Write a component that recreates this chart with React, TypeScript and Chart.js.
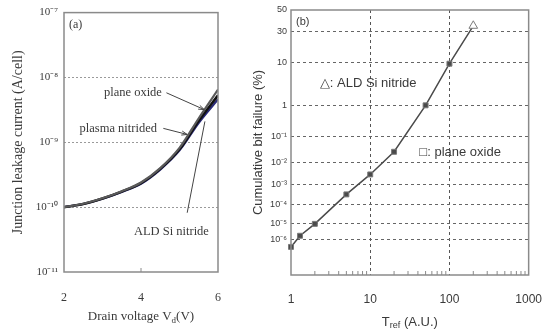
import { useEffect, useRef } from 'react';
import { Chart, registerables } from 'chart.js';

Chart.register(...registerables);

// ---------- Panel (a) data ----------
const VOLTAGE = [2, 2.5, 3, 3.5, 4, 4.5, 5, 5.5, 6];
const I_PLANE_OXIDE = [1e-10, 1.13e-10, 1.37e-10, 1.76e-10, 2.4e-10, 4.0e-10, 8.2e-10, 2.35e-9, 6.5e-9];
const I_PLASMA_NITRIDED = [1e-10, 1.12e-10, 1.36e-10, 1.74e-10, 2.35e-10, 3.9e-10, 7.8e-10, 2.15e-9, 5.3e-9];
const I_ALD_NITRIDE = [1e-10, 1.12e-10, 1.35e-10, 1.72e-10, 2.3e-10, 3.8e-10, 7.5e-10, 2.0e-9, 4.6e-9];
const LEAK_TICKS = [1e-11, 1e-10, 1e-9, 1e-8, 1e-7];
const LEAK_TICK_LABELS = ['10⁻¹¹', '10⁻¹⁰', '10⁻⁹', '10⁻⁸', '10⁻⁷'];
const VOLT_TICKS = [2, 4, 6];

// ---------- Panel (b) data ----------
const T_REF = [1, 1.3, 2, 5, 10, 20, 50, 100, 200];
const FAIL_PCT = [3.7e-7, 1.8e-6, 9e-6, 3.4e-4, 3e-3, 2.7e-2, 1, 9.5, 35];
const FAIL_MARKERS = ['rect', 'rect', 'rect', 'rect', 'rect', 'rect', 'rect', 'rect', 'triangle'];
const FAIL_TICK_PCT = [50, 30, 10, 1, 0.1, 0.01, 1e-3, 1e-4, 1e-5, 1e-6];
const FAIL_TICK_LABELS = ['50', '30', '10', '1', '10⁻¹', '10⁻²', '10⁻³', '10⁻⁴', '10⁻⁵', '10⁻⁶'];
const FAIL_AXIS_MIN_PCT = 5e-9;
const FAIL_AXIS_MAX_PCT = 50;
const T_TICKS = [1, 10, 100, 1000];

// inverse standard normal CDF (Acklam)
function probit(p: number): number {
  const a = [-3.969683028665376e1, 2.209460984245205e2, -2.759285104469687e2, 1.38357751867269e2, -3.066479806614716e1, 2.506628277459239];
  const b = [-5.447609879822406e1, 1.615858368580409e2, -1.556989798598866e2, 6.680131188771972e1, -1.328068155288572e1];
  const c = [-7.784894002430293e-3, -3.223964580411365e-1, -2.400758277161838, -2.549732539343734, 4.374664141464968, 2.938163982698783];
  const d = [7.784695709041462e-3, 3.224671290700398e-1, 2.445134137142996, 3.754408661907416];
  const plow = 0.02425;
  if (p <= 0) return -10;
  if (p < plow) {
    const q = Math.sqrt(-2 * Math.log(p));
    return (((((c[0] * q + c[1]) * q + c[2]) * q + c[3]) * q + c[4]) * q + c[5]) / ((((d[0] * q + d[1]) * q + d[2]) * q + d[3]) * q + 1);
  }
  if (p <= 1 - plow) {
    const q = p - 0.5;
    const r = q * q;
    return ((((((a[0] * r + a[1]) * r + a[2]) * r + a[3]) * r + a[4]) * r + a[5]) * q) / (((((b[0] * r + b[1]) * r + b[2]) * r + b[3]) * r + b[4]) * r + 1);
  }
  const q = Math.sqrt(-2 * Math.log(1 - p));
  return -(((((c[0] * q + c[1]) * q + c[2]) * q + c[3]) * q + c[4]) * q + c[5]) / ((((d[0] * q + d[1]) * q + d[2]) * q + d[3]) * q + 1);
}
const pctToZ = (pct: number) => probit(pct / 100);

const SERIF = '"Liberation Serif", "Times New Roman", serif';
const SANS = '"Liberation Sans", Arial, sans-serif';
const TEXT = '#3a3a3a';

function drawArrow(ctx: CanvasRenderingContext2D, x1: number, y1: number, x2: number, y2: number, head: boolean) {
  ctx.beginPath();
  ctx.moveTo(x1, y1);
  ctx.lineTo(x2, y2);
  ctx.stroke();
  if (head) {
    const ang = Math.atan2(y2 - y1, x2 - x1);
    const L = 6;
    ctx.beginPath();
    ctx.moveTo(x2, y2);
    ctx.lineTo(x2 - L * Math.cos(ang - 0.35), y2 - L * Math.sin(ang - 0.35));
    ctx.moveTo(x2, y2);
    ctx.lineTo(x2 - L * Math.cos(ang + 0.35), y2 - L * Math.sin(ang + 0.35));
    ctx.stroke();
  }
}

function drawSub(ctx: CanvasRenderingContext2D, parts: [string, boolean][], cx: number, cy: number, size: number, family: string) {
  const subSize = Math.round(size * 0.7);
  let total = 0;
  for (const [t, s] of parts) {
    ctx.font = `${s ? subSize : size}px ${family}`;
    total += ctx.measureText(t).width;
  }
  let x = cx - total / 2;
  ctx.textAlign = 'left';
  ctx.textBaseline = 'middle';
  for (const [t, s] of parts) {
    ctx.font = `${s ? subSize : size}px ${family}`;
    ctx.fillText(t, x, s ? cy + size * 0.3 : cy);
    x += ctx.measureText(t).width;
  }
}

const framePlugin = {
  id: 'frame',
  afterDraw(chart: any) {
    const { ctx, chartArea: a } = chart;
    ctx.save();
    ctx.strokeStyle = '#8a8a8a';
    ctx.lineWidth = 1.5;
    ctx.strokeRect(a.left, a.top, a.right - a.left, a.bottom - a.top);
    ctx.restore();
  },
};

// annotations for panel (a) in data units
const A_LABELS: [string, number, number][] = [
  ['plane oxide', 3.79, 5.8e-9],
  ['plasma nitrided', 3.41, 1.64e-9],
  ['ALD Si nitride', 4.79, 4.2e-11],
];
const A_ARROWS: [number, number, number, number, boolean][] = [
  [4.66, 5.8e-9, 5.64, 3.2e-9, true],
  [4.58, 1.64e-9, 5.2, 1.32e-9, true],
  [5.2, 8.2e-11, 5.66, 2.1e-9, false],
];

const panelAPlugin = {
  id: 'panelA',
  afterDraw(chart: any) {
    const { ctx, chartArea: a, scales } = chart;
    const xs = scales.x;
    const ys = scales.y;
    ctx.save();
    ctx.fillStyle = TEXT;
    ctx.strokeStyle = '#444';
    ctx.lineWidth = 1;
    ctx.font = `12px ${SERIF}`;
    ctx.textAlign = 'left';
    ctx.textBaseline = 'middle';
    ctx.fillText('(a)', a.left + 5, a.top + 12);
    ctx.font = `12.5px ${SERIF}`;
    ctx.textAlign = 'center';
    for (const [t, x, y] of A_LABELS) {
      ctx.fillText(t, xs.getPixelForValue(x), ys.getPixelForValue(y));
    }
    for (const [x1, y1, x2, y2, h] of A_ARROWS) {
      drawArrow(ctx, xs.getPixelForValue(x1), ys.getPixelForValue(y1), xs.getPixelForValue(x2), ys.getPixelForValue(y2), h);
    }
    // inner tick at 4
    const px = xs.getPixelForValue(4);
    ctx.strokeStyle = '#8a8a8a';
    ctx.beginPath();
    ctx.moveTo(px, a.bottom);
    ctx.lineTo(px, a.bottom - 4);
    ctx.stroke();
    // axis titles
    ctx.fillStyle = TEXT;
    drawSub(ctx, [['Drain voltage V', false], ['d', true], ['(V)', false]], (a.left + a.right) / 2, 317, 13, SERIF);
    ctx.save();
    ctx.translate(18, (a.top + a.bottom) / 2);
    ctx.rotate(-Math.PI / 2);
    ctx.font = `14px ${SERIF}`;
    ctx.textAlign = 'center';
    ctx.textBaseline = 'middle';
    ctx.fillText('Junction leakage current (A/cell)', 0, 0);
    ctx.restore();
    ctx.restore();
  },
};

// annotations for panel (b)
const B_LABELS: [string, number, number][] = [
  ['△: ALD Si nitride', 2.31, 3.75],
  ['□: plane oxide', 41.7, 0.0265],
];

const panelBPlugin = {
  id: 'panelB',
  afterDraw(chart: any) {
    const { ctx, chartArea: a, scales } = chart;
    const xs = scales.x;
    const ys = scales.y;
    ctx.save();
    ctx.fillStyle = TEXT;
    ctx.font = `11px ${SANS}`;
    ctx.textAlign = 'left';
    ctx.textBaseline = 'middle';
    ctx.fillText('(b)', a.left + 5, a.top + 12);
    ctx.font = `13px ${SANS}`;
    for (const [t, x, y] of B_LABELS) {
      ctx.fillText(t, xs.getPixelForValue(x), ys.getPixelForValue(pctToZ(y)));
    }
    // minor ticks inside bottom
    ctx.strokeStyle = '#8a8a8a';
    ctx.lineWidth = 1;
    for (let dec = 1; dec < 1000; dec *= 10) {
      for (let m = 2; m <= 9; m++) {
        const px = xs.getPixelForValue(dec * m);
        ctx.beginPath();
        ctx.moveTo(px, a.bottom);
        ctx.lineTo(px, a.bottom - 4);
        ctx.stroke();
      }
    }
    ctx.fillStyle = TEXT;
    drawSub(ctx, [['T', false], ['ref', true], [' (A.U.)', false]], (a.left + a.right) / 2, 322, 13, SANS);
    ctx.save();
    ctx.translate(18, (a.top + a.bottom) / 2);
    ctx.rotate(-Math.PI / 2);
    ctx.font = `13px ${SANS}`;
    ctx.textAlign = 'center';
    ctx.textBaseline = 'middle';
    ctx.fillText('Cumulative bit failure (%)', 0, 0);
    ctx.restore();
    ctx.restore();
  },
};

export default function App() {
  const refA = useRef<HTMLCanvasElement>(null);
  const refB = useRef<HTMLCanvasElement>(null);

  useEffect(() => {
    const chartA = new Chart(refA.current!, {
      type: 'line',
      data: {
        datasets: [
          { label: 'plane oxide', data: VOLTAGE.map((v, i) => ({ x: v, y: I_PLANE_OXIDE[i] })), borderColor: '#5a5a5a', borderWidth: 2.2 },
          { label: 'plasma nitrided', data: VOLTAGE.map((v, i) => ({ x: v, y: I_PLASMA_NITRIDED[i] })), borderColor: '#111111', borderWidth: 2.5 },
          { label: 'ALD Si nitride', data: VOLTAGE.map((v, i) => ({ x: v, y: I_ALD_NITRIDE[i] })), borderColor: '#2a2a78', borderWidth: 2.2 },
        ],
      },
      options: {
        animation: false,
        responsive: false,
        maintainAspectRatio: false,
        layout: { padding: { top: 10, right: 12, left: 0, bottom: 0 } },
        elements: { point: { radius: 0 }, line: { cubicInterpolationMode: 'monotone' } },
        plugins: { legend: { display: false }, tooltip: { enabled: false } },
        scales: {
          x: {
            type: 'linear',
            min: 2,
            max: 6,
            afterBuildTicks: (s: any) => { s.ticks = VOLT_TICKS.map((v) => ({ value: v })); },
            afterFit: (s: any) => { s.height = 62; },
            grid: { display: false, drawTicks: false },
            border: { display: false },
            ticks: { padding: 19, color: TEXT, font: { family: SERIF, size: 12 }, maxRotation: 0 },
          },
          y: {
            type: 'logarithmic',
            min: 1e-11,
            max: 1e-7,
            afterBuildTicks: (s: any) => { s.ticks = LEAK_TICKS.map((v) => ({ value: v })); },
            afterFit: (s: any) => { s.width = 64; },
            grid: {
              drawTicks: false,
              color: (c: any) => (c.tick && (c.tick.value === 1e-7 || c.tick.value === 1e-11) ? 'rgba(0,0,0,0)' : '#9a9a9a'),
              lineWidth: 1,
            },
            border: { display: false, dash: [2, 2] },
            ticks: {
              padding: 6,
              color: TEXT,
              font: { family: SERIF, size: 11 },
              callback: (_v: any, i: number) => LEAK_TICK_LABELS[i],
            },
          },
        },
      },
      plugins: [framePlugin, panelAPlugin],
    } as any);

    const zMin = pctToZ(FAIL_AXIS_MIN_PCT);
    const zMax = pctToZ(FAIL_AXIS_MAX_PCT);
    const chartB = new Chart(refB.current!, {
      type: 'line',
      data: {
        datasets: [
          {
            label: 'Cumulative bit failure',
            data: T_REF.map((t, i) => ({ x: t, y: pctToZ(FAIL_PCT[i]) })),
            borderColor: '#4a4a4a',
            borderWidth: 1.5,
            pointStyle: FAIL_MARKERS,
            pointRadius: FAIL_MARKERS.map((m) => (m === 'triangle' ? 5 : 3.5)),
            pointBackgroundColor: FAIL_MARKERS.map((m) => (m === 'triangle' ? '#ffffff' : '#4a4a4a')),
            pointBorderColor: '#7a7a7a',
            pointBorderWidth: 1,
            clip: false,
          },
        ],
      },
      options: {
        animation: false,
        responsive: false,
        maintainAspectRatio: false,
        layout: { padding: { top: 10, right: 20, left: 0, bottom: 0 } },
        plugins: { legend: { display: false }, tooltip: { enabled: false } },
        scales: {
          x: {
            type: 'logarithmic',
            min: 1,
            max: 1000,
            afterBuildTicks: (s: any) => { s.ticks = T_TICKS.map((v) => ({ value: v })); },
            afterFit: (s: any) => { s.height = 59; },
            grid: {
              drawTicks: false,
              color: (c: any) => (c.tick && (c.tick.value === 10 || c.tick.value === 100) ? '#555555' : 'rgba(0,0,0,0)'),
              lineWidth: 1,
            },
            border: { display: false, dash: [3, 3] },
            ticks: {
              padding: 17,
              color: TEXT,
              font: { family: SANS, size: 12 },
              maxRotation: 0,
              callback: (_v: any, i: number) => String(T_TICKS[i]),
            },
          },
          y: {
            type: 'linear',
            min: zMin,
            max: zMax,
            afterBuildTicks: (s: any) => { s.ticks = FAIL_TICK_PCT.map((p) => ({ value: pctToZ(p) })); },
            afterFit: (s: any) => { s.width = 51; },
            grid: {
              drawTicks: false,
              color: (c: any) => (c.index === 0 ? 'rgba(0,0,0,0)' : '#666666'),
              lineWidth: 1,
            },
            border: { display: false, dash: [3, 3] },
            ticks: {
              padding: 4,
              color: TEXT,
              font: { family: SANS, size: 9 },
              autoSkip: false,
              callback: (_v: any, i: number) => FAIL_TICK_LABELS[i],
            },
          },
        },
      },
      plugins: [framePlugin, panelBPlugin],
    } as any);

    return () => {
      chartA.destroy();
      chartB.destroy();
    };
  }, []);

  return (
    <div style={{ position: 'absolute', left: 0, top: 0, width: 559, height: 334, background: '#fff' }}>
      <canvas ref={refA} width={240} height={334} style={{ position: 'absolute', left: 0, top: 0, width: 240, height: 334 }} />
      <canvas ref={refB} width={319} height={334} style={{ position: 'absolute', left: 240, top: 0, width: 319, height: 334 }} />
    </div>
  );
}
